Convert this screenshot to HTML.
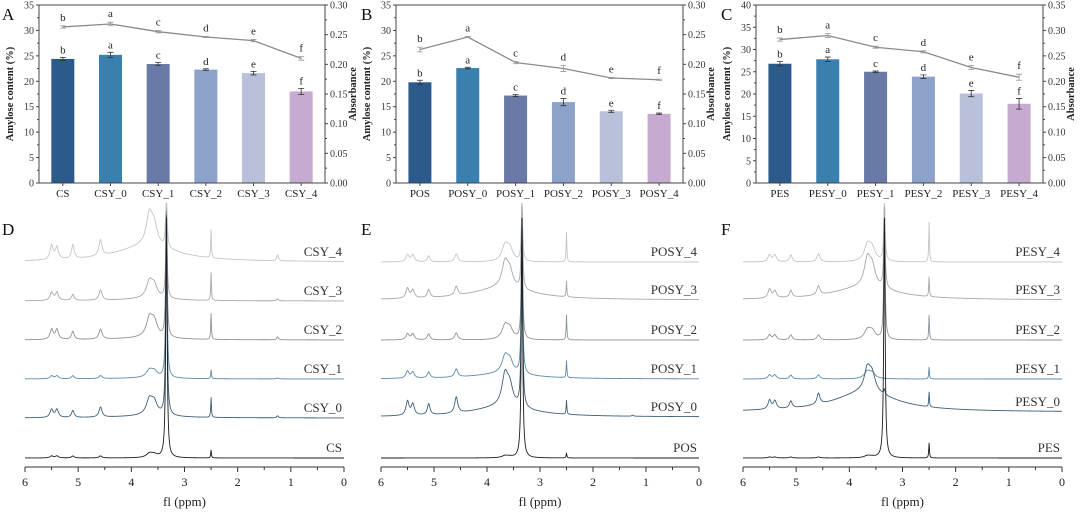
<!DOCTYPE html>
<html><head><meta charset="utf-8"><style>
html,body{margin:0;padding:0;background:#fff;}
svg,svg text{font-family:"Liberation Serif","Times New Roman",Times,"DejaVu Serif",serif;}
</style></head><body>
<svg id="fig" width="1080" height="513" viewBox="0 0 1080 513" xmlns="http://www.w3.org/2000/svg"></svg>
<script>
// ---------- Bar chart data ----------
const catsA = ["CS","CSY_0","CSY_1","CSY_2","CSY_3","CSY_4"];
const amyA = [24.4,25.2,23.4,22.3,21.6,18.0];
const amyErrA = [0.3,0.5,0.3,0.15,0.35,0.6];
const absA = [0.263,0.268,0.255,0.246,0.240,0.210];
const absErrA = [0.002,0.003,0.002,0.001,0.002,0.003];
const catsB = ["POS","POSY_0","POSY_1","POSY_2","POSY_3","POSY_4"];
const amyB = [19.8,22.6,17.2,15.9,14.1,13.6];
const amyErrB = [0.4,0.15,0.2,0.7,0.2,0.15];
const absB = [0.225,0.246,0.203,0.193,0.177,0.174];
const absErrB = [0.004,0.001,0.002,0.005,0.001,0.001];
const catsC = ["PES","PESY_0","PESY_1","PESY_2","PESY_3","PESY_4"];
const amyC = [26.8,27.8,25.0,23.9,20.1,17.8];
const amyErrC = [0.5,0.5,0.15,0.4,0.7,1.2];
const absC = [0.282,0.290,0.267,0.258,0.227,0.208];
const absErrC = [0.003,0.004,0.002,0.002,0.004,0.006];
const letters = ["b","a","c","d","e","f"];
const leftTicksAB = [0,5,10,15,20,25,30,35];
const rightTicksAB = [0.00,0.05,0.10,0.15,0.20,0.25,0.30];
const leftTicksC = [0,5,10,15,20,25,30,35,40];
const rightTicksC = [0.00,0.05,0.10,0.15,0.20,0.25,0.30,0.35];
const barColors = ["#2c5a8b","#3a80ae","#6a7aa6","#8da2cb","#b8c0da","#c6aad0"];

// ---------- NMR data ----------
const peakPpm = [5.5,5.4,5.1,4.58,3.66,3.57,3.34,2.5,1.25];
const peakWid = [0.035,0.035,0.03,0.035,0.07,0.07,0.015,0.008,0.02];
const namesD = ["CS","CSY_0","CSY_1","CSY_2","CSY_3","CSY_4"];
const namesE = ["POS","POSY_0","POSY_1","POSY_2","POSY_3","POSY_4"];
const namesF = ["PES","PESY_0","PESY_1","PESY_2","PESY_3","PESY_4"];
const heightsD = [
 [2,2,2,2,4,3,240,8,0],
 [8,8,7,10,15,12,200,20,2],
 [3,3,3,3,7,6,160,9,1],
 [10,10,8,10,18,15,125,26,3],
 [8,8,6,10,16,12,90,28,2],
 [14,12,14,16,30,18,60,28,6]];
const humpD = [0,2,1,2,2,16];
const heightsE = [
 [0,0,0,0,2,1,240,5,0],
 [14,11,11,16,30,18,185,14,1],
 [7,6,6,8,16,12,150,17,0],
 [6,6,6,7,13,10,120,25,0],
 [10,8,8,9,24,15,90,16,0],
 [7,7,6,8,15,12,60,30,0]];
const humpE = [0,10,5,0,12,0];
const heightsF = [
 [1,1,1,1,2,1,240,15,0],
 [9,8,7,11,22,16,5,15,0],
 [4,4,4,4,7,5,0,12,0],
 [5,5,5,5,9,8,120,25,0],
 [9,7,7,9,26,18,80,20,0],
 [7,7,7,8,16,12,65,40,0]];
const humpF = [0,20,0,0,13,0];
const baseD = [458,418,379,340,301,262];
const baseE = [458,417,379,340,300,262];
const baseF = [458,412,379,340,300,262];

const NS="http://www.w3.org/2000/svg";
const svg=document.getElementById('fig');
function mk(tag,attrs,parent){const e=document.createElementNS(NS,tag);for(const k in attrs)e.setAttribute(k,attrs[k]);(parent||svg).appendChild(e);return e;}
function txt(s,attrs,parent){const t=mk('text',attrs,parent);t.textContent=s;return t;}

function barChart(name,x0,x1,cats,amy,amyErr,abs,absErr,lt,rt,lmax,rmax){
  const g=mk('g',{});
  
  
  const yT=5,yB=183;
  const yL=v=>yB-(v/lmax)*(yB-yT);
  const yR=v=>yB-(v/rmax)*(yB-yT);
  const bw=(x1-x0)/cats.length;
  const xc=i=>x0+bw*(i+0.5);
  cats.forEach((c,i)=>{
    const r=mk('rect',{x:xc(i)-11.5,y:yL(amy[i]),width:23,height:yB-yL(amy[i]),fill:barColors[i]},g);
    
    
    const e1=yL(amy[i]+amyErr[i]),e2=yL(amy[i]-amyErr[i]);
    mk('path',{d:`M${xc(i)} ${e1}V${e2}M${xc(i)-3} ${e1}h6M${xc(i)-3} ${e2}h6`,stroke:'#333','stroke-width':0.8,fill:'none'},g);
    txt(letters[i],{x:xc(i),y:e1-4,'font-size':11,'text-anchor':'middle',fill:'#222'},g);
    const l=txt(c,{x:xc(i),y:197,'font-size':11,'text-anchor':'middle',fill:'#222'},g);
    
    
  });
  let d='';
  abs.forEach((v,i)=>{d+=(i?'L':'M')+xc(i)+' '+yR(v);});
  const ln=mk('path',{d:d,stroke:'#8a8a8a','stroke-width':1.3,fill:'none'},g);
  
  
  abs.forEach((v,i)=>{
    const e1=yR(v+absErr[i]),e2=yR(v-absErr[i]);
    mk('path',{d:`M${xc(i)} ${e1}V${e2}M${xc(i)-3} ${e1}h6M${xc(i)-3} ${e2}h6`,stroke:'#999','stroke-width':0.8,fill:'none'},g);
    txt(letters[i],{x:xc(i),y:e1-5,'font-size':11,'text-anchor':'middle',fill:'#222'},g);
  });
  mk('rect',{x:x0,y:yT,width:x1-x0,height:yB-yT,fill:'none',stroke:'#444','stroke-width':1},g);
  lt.forEach((v,i)=>{
    const y=yL(v);
    mk('line',{x1:x0-3,x2:x0,y1:y,y2:y,stroke:'#444'},g);
    if(i<lt.length-1){const ym=yL(v+(lt[1]-lt[0])/2);mk('line',{x1:x0-2,x2:x0,y1:ym,y2:ym,stroke:'#444'},g);}
    txt(String(v),{x:x0-5,y:y+3.5,'font-size':10,'text-anchor':'end',fill:'#333'},g);
  });
  rt.forEach((v,i)=>{
    const y=yR(v);
    mk('line',{x1:x1,x2:x1+3,y1:y,y2:y,stroke:'#444'},g);
    if(i<rt.length-1){const ym=yR(v+0.025);mk('line',{x1:x1,x2:x1+2,y1:ym,y2:ym,stroke:'#444'},g);}
    txt(v.toFixed(2),{x:x1+5,y:y+3.5,'font-size':10,fill:'#333'},g);
  });
  cats.forEach((c,i)=>{mk('line',{x1:xc(i),x2:xc(i),y1:yB,y2:yB+3,stroke:'#444'},g);});
  const ly=txt('Amylose content (%)',{x:0,y:0,'font-size':10.5,'font-weight':'bold','text-anchor':'middle',transform:`translate(${x0-26},${(yT+yB)/2}) rotate(-90)`,fill:'#222'},g);
  
  
  const ry=txt('Absorbance',{x:0,y:0,'font-size':10.5,'font-weight':'bold','text-anchor':'middle',transform:`translate(${x1+31},${(yT+yB)/2}) rotate(-90)`,fill:'#222'},g);
  
  
}
barChart('panel-a-chart',39,325,catsA,amyA,amyErrA,absA,absErrA,leftTicksAB,rightTicksAB,35,0.30);
barChart('panel-b-chart',396,683,catsB,amyB,amyErrB,absB,absErrB,leftTicksAB,rightTicksAB,35,0.30);
barChart('panel-c-chart',756,1043,catsC,amyC,amyErrC,absC,absErrC,leftTicksC,rightTicksC,40,0.35);

const specColors=["#1a1a1a","#3f5f78","#5d8aa6","#8c9299","#a3a8ad","#c2c6ca"];
function nmr(name,x0,x1,names,heights,hump,base){
  const g=mk('g',{});
  
  
  const xp=p=>x0+(6-p)/6*(x1-x0);
  for(let s=names.length-1;s>=0;s--){
    let d='';
    for(let k=0;k<=900;k++){
      const p=6-6*k/900;
      let v=0;
      peakPpm.forEach((pp,j)=>{const w=peakWid[j];v+=heights[s][j]*w*w/((p-pp)*(p-pp)+w*w);});
      const hw=0.7;v+=hump[s]*hw*hw/((p-3.7)*(p-3.7)+hw*hw);
      let y=base[s]-v; if(y<203)y=203;
      d+=(k?'L':'M')+xp(p).toFixed(2)+' '+y.toFixed(2);
    }
    const pth=mk('path',{d:d,stroke:specColors[s],'stroke-width':0.9,fill:'none'},g);
    
    
    const lb=txt(names[s],{x:x1-2,y:base[s]-6,'font-size':13,'text-anchor':'end',fill:'#333'},g);
    
    
  }
  mk('line',{x1:x0,x2:x1,y1:467,y2:467,stroke:'#333','stroke-width':1},g);
  for(let t=0;t<=12;t++){
    const x=x0+t/12*(x1-x0);
    mk('line',{x1:x,x2:x,y1:467,y2:t%2?470:472,stroke:'#333'},g);
    if(t%2===0) txt(String(6-t/2),{x:x,y:486,'font-size':12,'text-anchor':'middle',fill:'#222'},g);
  }
  const xl=txt('fl (ppm)',{x:(x0+x1)/2,y:506,'font-size':13,'text-anchor':'middle',fill:'#222'},g);
  
  
}
nmr('panel-d-nmr',25,344,namesD,heightsD,humpD,baseD);
nmr('panel-e-nmr',381,699,namesE,heightsE,humpE,baseE);
nmr('panel-f-nmr',743,1062,namesF,heightsF,humpF,baseF);

[["A",2,20],["B",361,20],["C",721,20],["D",2,235],["E",361,235],["F",721,235]].forEach(a=>{
  const t=txt(a[0],{x:a[1],y:a[2],'font-size':17,fill:'#111'});
  
  
});
</script>
</body></html>
